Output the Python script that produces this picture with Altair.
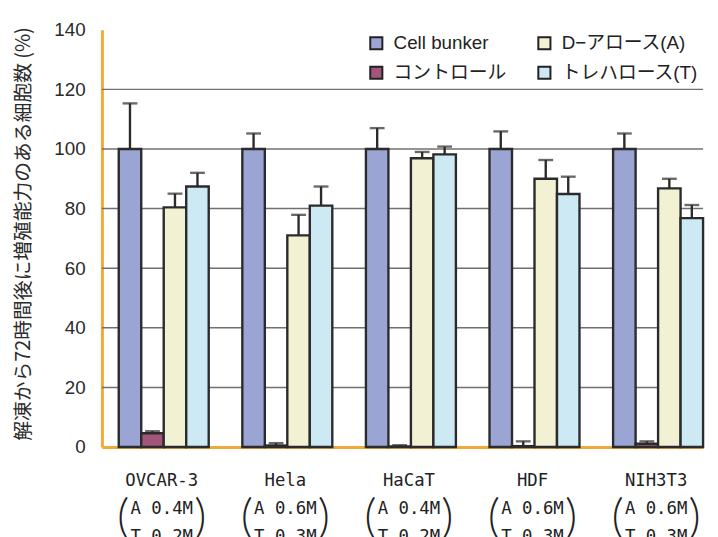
import altair as alt
import pandas as pd

groups = ["OVCAR-3", "Hela", "HaCaT", "HDF", "NIH3T3"]
conc_a = ["A 0.4M", "A 0.6M", "A 0.4M", "A 0.6M", "A 0.6M"]
conc_t = ["T 0.2M", "T 0.3M", "T 0.2M", "T 0.3M", "T 0.3M"]

series_bar_order = ["Cell bunker", "コントロール", "D−アロース(A)", "トレハロース(T)"]
series_colors = ["#9BA5D3", "#A4557B", "#F3F1D3", "#CCE9F4"]

cell_bunker = [100, 100, 100, 100, 100]
cell_bunker_err = [15.3, 5.2, 7.0, 5.9, 5.2]
control = [4.6, 0.5, 0.2, 0.3, 1.1]
control_err = [0.7, 0.8, 0.4, 1.6, 0.8]
d_allose = [80.4, 71.0, 96.9, 90.0, 86.8]
d_allose_err = [4.6, 6.9, 2.1, 6.3, 3.2]
trehalose = [87.4, 81.0, 98.2, 84.9, 76.8]
trehalose_err = [4.6, 6.4, 2.6, 5.8, 4.4]

grid_values = [20, 40, 60, 80, 100, 120]

vals = {
    "Cell bunker": (cell_bunker, cell_bunker_err),
    "コントロール": (control, control_err),
    "D−アロース(A)": (d_allose, d_allose_err),
    "トレハロース(T)": (trehalose, trehalose_err),
}
rows = []
for s in series_bar_order:
    v, e = vals[s]
    for g, vv, ee in zip(groups, v, e):
        rows.append({"group": g, "series": s, "value": vv, "top": vv + ee})
df = pd.DataFrame(rows)
lab = pd.DataFrame({"group": groups, "a": conc_a, "t": conc_t})
grid = pd.DataFrame({"value": grid_values})

ORANGE = "#F2A93A"
JP = "Liberation Sans, Noto Sans CJK JP"
MONO = "DejaVu Sans Mono"

yscale = alt.Scale(domain=[0, 140], nice=False)
yaxis = alt.Axis(values=[0, 20, 40, 60, 80, 100, 120, 140], grid=False,
                 ticks=False, domainColor=ORANGE, domainWidth=3,
                 labelFont="Liberation Sans", labelFontSize=19,
                 labelColor="#2a2a2a", labelPadding=17,
                 title="解凍から72時間後に増殖能力のある細胞数 (%)",
                 titleFont="Noto Sans CJK JP", titleFontSize=20,
                 titleFontWeight="normal", titleColor="#2a2a2a",
                 titleAngle=-90, titleX=-79, titleY=206,
                 titleAlign="center", titleBaseline="middle")

xs = alt.X("group:N", sort=groups,
           scale=alt.Scale(paddingInner=0.272, paddingOuter=0.068, align=1),
           axis=alt.Axis(labels=False, ticks=False, title=None, grid=False,
                         domainColor=ORANGE, domainWidth=3))
xo = alt.XOffset("series:N", sort=series_bar_order,
                 scale=alt.Scale(paddingInner=0, paddingOuter=0))
ys = alt.Y("value:Q", scale=yscale, axis=yaxis)

gridlines = alt.Chart(grid).mark_rule(color="#707070", strokeWidth=1.5).encode(
    y=ys
)

bars = alt.Chart(df).mark_bar(stroke="#2b2b2b", strokeWidth=2.4).encode(
    x=xs, xOffset=xo, y=ys,
    color=alt.Color("series:N",
                    scale=alt.Scale(domain=series_bar_order, range=series_colors),
                    legend=alt.Legend(orient="none", legendX=268, legendY=4,
                                      columns=2, direction="vertical",
                                      title=None, symbolType="square",
                                      symbolSize=150, symbolStrokeColor="#222",
                                      symbolStrokeWidth=2, labelFont=JP,
                                      labelFontSize=19, labelColor="#222",
                                      columnPadding=27, rowPadding=9,
                                      labelOffset=8, padding=0,
                                      labelLimit=300)),
)

err = alt.Chart(df).mark_rule(color="#2b2b2b", strokeWidth=2.4).encode(
    x=xs, xOffset=xo, y="value:Q", y2="top:Q"
)
caps = alt.Chart(df).mark_tick(color="#2b2b2b", thickness=2.4, size=15).encode(
    x=xs, xOffset=xo, y="top:Q"
)

line1 = alt.Chart(lab).mark_text(font=MONO, fontSize=17.5, color="#222",
                                 baseline="alphabetic", dx=-2).encode(
    x=alt.X("group:N", sort=groups), y=alt.value(461), text="group:N")
line2 = alt.Chart(lab).mark_text(font=MONO, fontSize=17.5, color="#222",
                                 baseline="alphabetic", dx=-2).encode(
    x=alt.X("group:N", sort=groups), y=alt.value(490), text="a:N")
line3 = alt.Chart(lab).mark_text(font=MONO, fontSize=17.5, color="#222",
                                 baseline="alphabetic", dx=-2).encode(
    x=alt.X("group:N", sort=groups), y=alt.value(518), text="t:N")
lparen = alt.Chart(lab).mark_text(font="Lato", fontWeight=300, fontSize=48,
                                  color="#222", baseline="middle", dx=-41,
                                  text="(").encode(
    x=alt.X("group:N", sort=groups), y=alt.value(495))
rparen = alt.Chart(lab).mark_text(font="Lato", fontWeight=300, fontSize=48,
                                  color="#222", baseline="middle", dx=37,
                                  text=")").encode(
    x=alt.X("group:N", sort=groups), y=alt.value(495))

chart = alt.layer(gridlines, bars, err, caps, line1, line2, line3, lparen, rparen).properties(
    width=608, height=422,
    autosize=alt.AutoSizeParams(type="none"),
    padding={"left": 95, "top": 19, "right": 7, "bottom": 88},
    background="white",
).configure_view(stroke=None)

chart.save("out.html", embed_options={"renderer": "svg", "actions": False})
